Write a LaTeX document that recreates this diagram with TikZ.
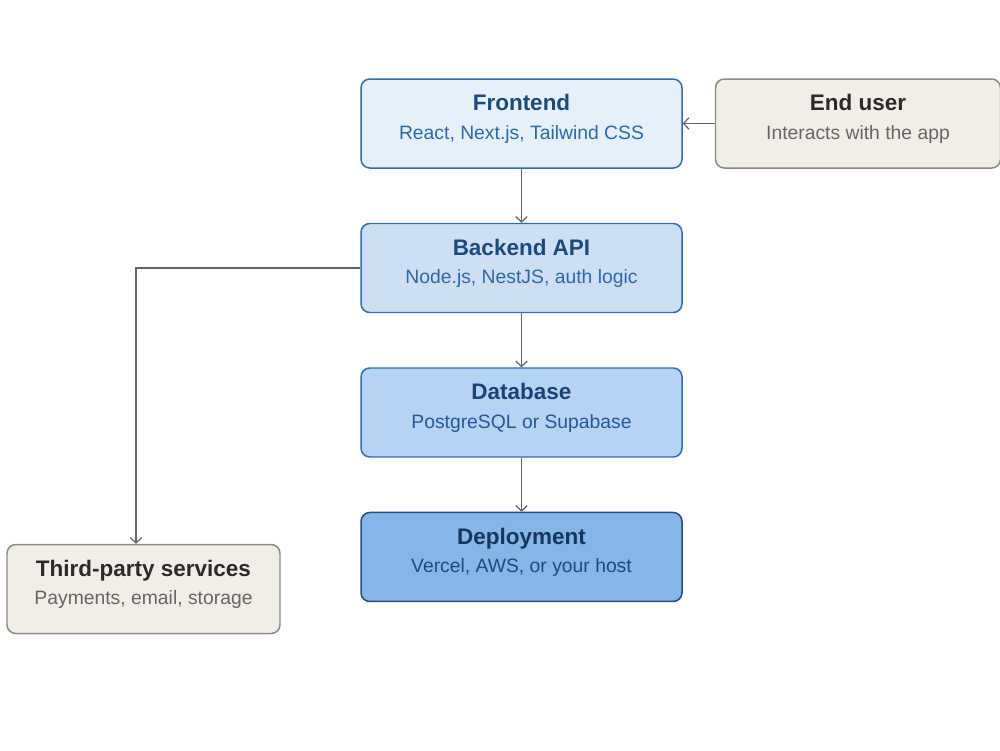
\documentclass[tikz,border=0pt]{standalone}
\usepackage{fontspec}
\setmainfont{Liberation Sans}
\usepackage{xcolor}
\usetikzlibrary{positioning,arrows.meta}
\definecolor{stkline}{HTML}{2F6DB5}
\definecolor{stkdark}{HTML}{1F4F8A}
\definecolor{stktitle}{HTML}{1A4A80}
\definecolor{stksub}{HTML}{2A68AD}
\definecolor{dbtitle}{HTML}{1A4478}
\definecolor{dbsub}{HTML}{22599A}
\definecolor{deptitle}{HTML}{17365E}
\definecolor{depsub}{HTML}{1D4A80}
\definecolor{stkfront}{HTML}{E6F0FA}
\definecolor{stkback}{HTML}{CFDFF3}
\definecolor{stkdb}{HTML}{B5D3F2}
\definecolor{stkdeploy}{HTML}{86B6E8}
\definecolor{extfill}{HTML}{F1EEE7}
\definecolor{extline}{HTML}{8C8A84}
\definecolor{exttitle}{HTML}{2B2B2B}
\definecolor{extsub}{HTML}{666666}
\definecolor{wire}{HTML}{666666}

% title + subtitle, colours picked by prefix
\newcommand{\stacktext}[3][stk]{{\fontsize{12.8}{15}\selectfont\bfseries\color{#1title}#2}\\[4.2pt]{\fontsize{11}{13}\selectfont\color{#1sub}#3}}

\begin{document}
\begin{tikzpicture}[
    node distance=1.08cm,
    layer/.style={draw=stkline, line width=0.85pt, rounded corners=5pt, minimum width=6.42cm,
                  minimum height=1.78cm, align=center, text depth=0.26cm},
    outside/.style={draw=extline, line width=0.85pt, rounded corners=5pt,
                  minimum height=1.78cm, align=center, fill=extfill, text depth=0.26cm},
    link/.style={-{Straight Barb[length=3pt,width=6.5pt]}, draw=wire, line width=0.7pt}
]
    \useasboundingbox (0,0) rectangle (20,-15);

    \node[layer, fill=stkfront] (frontend) at (10.43,-2.47) {\stacktext{Frontend}{React, Next.js, Tailwind CSS}};
    \node[layer, fill=stkback, below=of frontend] (backend) {\stacktext{Backend API}{Node.js, NestJS, auth logic}};
    \node[layer, fill=stkdb, below=of backend] (database) {\stacktext[db]{Database}{PostgreSQL or Supabase}};
    \node[layer, fill=stkdeploy, draw=stkdark, below=of database] (deploy) {\stacktext[dep]{Deployment}{Vercel, AWS, or your host}};

    \node[outside, minimum width=5.7cm, right=0.64cm of frontend] (user) {\stacktext[ext]{End user}{Interacts with the app}};
    \node[outside, minimum width=5.46cm] (services) at (2.87,-11.78) {\stacktext[ext]{Third-party services}{Payments, email, storage}};

    % Request flow
    \draw[link] (user) -- (frontend);
    \draw[link] (frontend) -- (backend);
    \draw[link] (backend) -- (database);
    \draw[link] (database) -- (deploy);

    % External calls
    \draw[link] (backend.west) -| ([xshift=-0.15cm]services.north);
\end{tikzpicture}
\end{document}
